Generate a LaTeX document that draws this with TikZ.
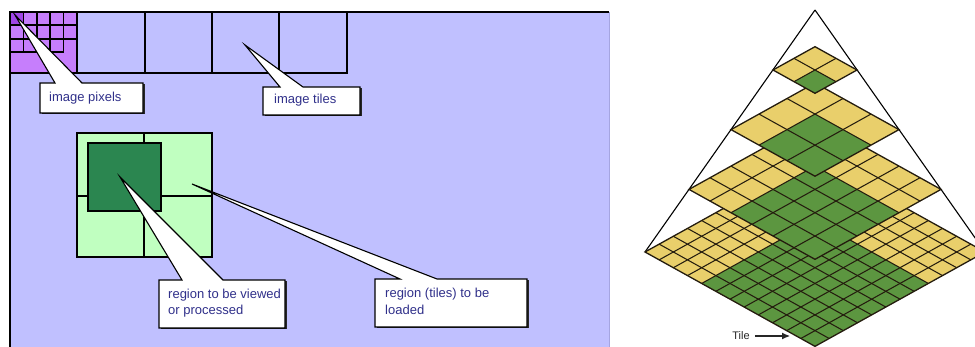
\documentclass[tikz,border=0pt]{standalone}
\usepackage{fontspec}
\setmainfont{Liberation Sans}
\usetikzlibrary{arrows.meta}

\definecolor{panelbg}{RGB}{192,192,255}
\definecolor{paneledge}{RGB}{165,165,225}
\definecolor{pixpurple}{RGB}{198,126,252}
\definecolor{pixdark}{RGB}{160,70,230}
\definecolor{regionlight}{RGB}{192,255,192}
\definecolor{regiondark}{RGB}{43,134,80}
\definecolor{calltxt}{RGB}{48,48,138}
\definecolor{pyryellow}{RGB}{233,207,107}
\definecolor{pyrgreen}{RGB}{92,150,64}
\definecolor{pyrgrid}{RGB}{36,28,14}

\begin{document}
\begin{tikzpicture}[x=1pt,y=-1pt,
  tilebox/.style={draw=black,line width=1.5pt},
  pixline/.style={draw=black,line width=1.1pt},
  callout/.style={fill=white,draw=black,line width=1.1pt,line join=miter},
  calloutshadow/.style={fill=black!85},
  calltext/.style={font=\fontsize{13}{16}\selectfont,text=calltxt,inner sep=0pt,anchor=base west},
  pyrline/.style={draw=pyrgrid,line width=1.05pt},
  pyredge/.style={draw=black,line width=1.1pt},
  tiletext/.style={font=\fontsize{11}{13}\selectfont,text=black!85,inner sep=0pt}]
\useasboundingbox (0,0) rectangle (975,347);
\clip (0,0) rectangle (975,347);

% ---------- image panel ----------
\fill[panelbg] (10,12) rectangle (609,347);
\draw[paneledge,line width=0.8pt] (609,12) -- (609,347);
\draw[line width=1.6pt] (10,347) -- (10,12) -- (609,12);

% first tile, split into pixels
\fill[pixpurple] (10,12) rectangle (77,73);
\fill[pixdark] (10,12) rectangle (23.5,25);
\foreach \px in {23.5,37,50,63.5} \draw[pixline] (\px,12) -- (\px,52);
\draw[pixline] (10,25) -- (77,25);
\draw[pixline] (10,39) -- (77,39);
\draw[pixline] (10,52) -- (63.5,52);
\draw[tilebox] (10,12) rectangle (77,73);
% remaining tiles of the top row
\foreach \xa/\xb in {77/145,145/212,212/279,279/347}
  \draw[tilebox] (\xa,12) rectangle (\xb,73);

% tiles to be loaded and the viewed region
\fill[regionlight] (77,133) rectangle (212,257);
\draw[tilebox] (144,133) -- (144,257);
\draw[tilebox] (77,196) -- (212,196);
\draw[tilebox] (77,133) rectangle (212,257);
\draw[tilebox,fill=regiondark] (88,143) rectangle (161,211);

% ---------- callouts ----------
\coordinate (pixtip) at (15,15);
\fill[calloutshadow] (41.5,84.5) rectangle (144.5,114.5);
\draw[callout] (40,83) -- (55,83) -- (pixtip) -- (82,83) -- (143,83) -- (143,113) -- (40,113) -- cycle;
\node[calltext] (pixlbl) at (49,102) {image pixels};

\coordinate (tiletipA) at (245,45);
\fill[calloutshadow] (264.5,88.5) rectangle (361.5,116.5);
\draw[callout] (263,87) -- (280,87) -- (tiletipA) -- (303,87) -- (360,87) -- (360,115) -- (263,115) -- cycle;
\node[calltext] (tilelblA) at (274,104) {image tiles};

\coordinate (viewtip) at (120,177);
\fill[calloutshadow] (160.5,281.5) rectangle (286.5,329.5);
\draw[callout] (159,280) -- (182,280) -- (viewtip) -- (223,280) -- (285,280) -- (285,328) -- (159,328) -- cycle;
\node[calltext] (viewlblA) at (168,298.5) {region to be viewed};
\node[calltext] (viewlblB) at (168,315) {or processed};

\coordinate (loadtip) at (192,184);
\fill[calloutshadow] (376.5,280.5) rectangle (528.5,328.5);
\draw[callout] (375,279) -- (400,279) -- (loadtip) -- (437,279) -- (527,279) -- (527,327) -- (375,327) -- cycle;
\node[calltext] (loadlblA) at (385,298) {region (tiles) to be};
\node[calltext] (loadlblB) at (385,315) {loaded};

% ---------- tile pyramid ----------
\coordinate (apex) at (815,10);
\coordinate (baseL) at (645,252);
\coordinate (baseR) at (985,252);
\draw[pyredge] (apex) -- (baseL);
\draw[pyredge] (apex) -- (baseR);

% levels, widest first: half width / corner height / tiles per side / yellow strip
\foreach \lw/\lc/\n/\k in {170/252/12/4, 126/189.4/6/2, 84/129.6/3/1, 42/70/2/1}{
  \pgfmathsetmacro\lh{0.555*\lw}
  \pgfmathsetmacro\ltop{\lc-\lh}
  \pgfmathsetmacro\cwd{\lw/\n}
  \pgfmathsetmacro\cht{\lh/\n}
  \pgfmathtruncatemacro\m{\n-1}
  \begin{scope}[shift={(815,\ltop)},x={(\cwd pt,-\cht pt)},y={(-\cwd pt,-\cht pt)}]
    \fill[pyryellow] (0,0) -- (\n,0) -- (\n,\n) -- (0,\n) -- cycle;
    \fill[pyrgreen] (\k,\k) -- (\n,\k) -- (\n,\n) -- (\k,\n) -- cycle;
    \foreach \t in {1,...,\m}{
      \draw[pyrline] (\t,0) -- (\t,\n);
      \draw[pyrline] (0,\t) -- (\n,\t);
    }
    \draw[pyrline,line width=1.3pt] (0,0) -- (\n,0) -- (\n,\n) -- (0,\n) -- cycle;
  \end{scope}
}

% tile pointer
\node[tiletext] (tilename) at (741,336) {Tile};
\coordinate (tilepoint) at (790,336);
\draw[line width=1.1pt,black!85,-{Latex[length=8pt,width=7pt]}] (tilename.east) ++(5,0) -- (tilepoint);
\end{tikzpicture}
\end{document}
